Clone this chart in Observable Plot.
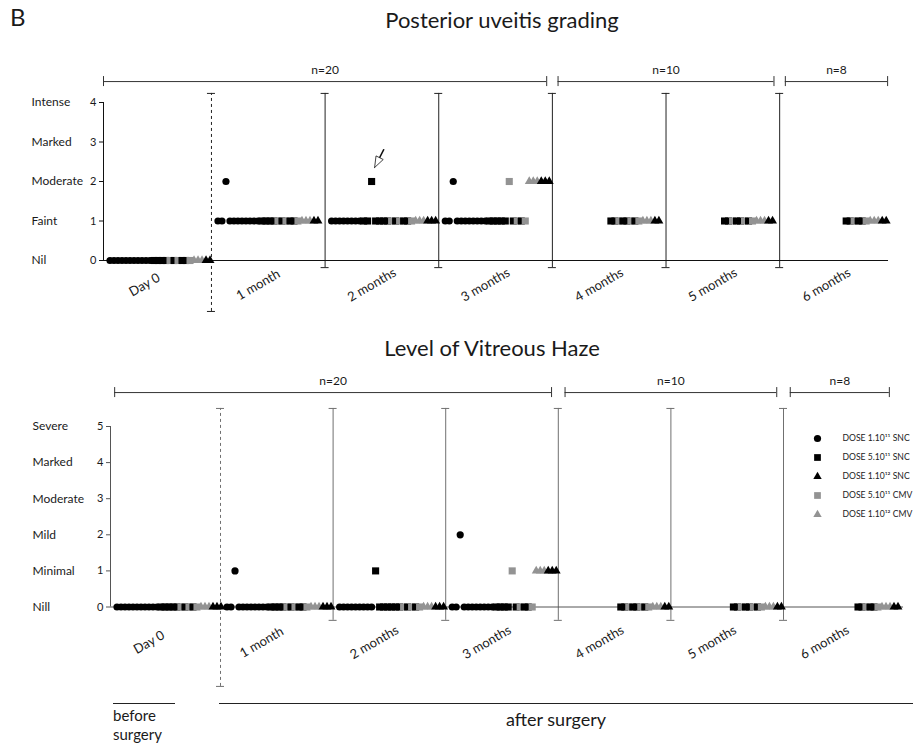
<!DOCTYPE html>
<html><head><meta charset="utf-8">
<script src="https://cdn.jsdelivr.net/npm/d3@7"></script>
<script src="https://cdn.jsdelivr.net/npm/@observablehq/plot@0.6"></script>
<style>
body{margin:0;background:#fff;font-family:Lato,sans-serif;color:#1a1a1a;}
#wrap{position:relative;width:913px;height:753px;overflow:hidden;background:#fff;}
.abs{position:absolute;white-space:nowrap;}
.line{position:absolute;border-top:1px solid #222;height:0;}
</style></head><body><div id="wrap">
<div class="abs" style="left:10px;top:2px;font-size:24px;">B</div>
<div class="abs" style="left:0;width:1004px;top:6px;text-align:center;font-size:22px;">Posterior uveitis grading</div>
<div class="abs" style="left:0;width:984px;top:334px;text-align:center;font-size:22px;">Level of Vitreous Haze</div>
<div class="line" style="left:113px;top:703px;width:62px;"></div>
<div class="abs" style="left:113px;top:706px;font-size:15px;line-height:19px;">before<br>surgery</div>
<div class="line" style="left:219px;top:703px;width:700px;"></div>
<div class="abs" style="left:0;width:1112px;top:708px;text-align:center;font-size:18px;">after surgery</div>
</div>
<script>
// ---------- data ----------
const timepoints = ["Day 0","1 month","2 months","3 months","4 months","5 months","6 months"];
const groupKeys = ["c","s","T","g","t"];
const groupLabels = ["DOSE 1.10\u00B9\u00B9 SNC","DOSE 5.10\u00B9\u00B9 SNC","DOSE 1.10\u00B9\u00B2 SNC","DOSE 5.10\u00B9\u00B9 CMV","DOSE 1.10\u00B9\u00B2 CMV"];
const groupSymbols = ["circle","square","triangle","square","triangle"];
const groupColors = ["#000000","#000000","#000000","#939393","#939393"];

const uveitisGrades = ["Nil","Faint","Moderate","Marked","Intense"];
const hazeGrades = ["Nill","Minimal","Mild","Moderate","Marked","Severe"];

const cohortLabels = ["n=20","n=10","n=8"];
const cohortFirst = [0,4,6];
const cohortLast = [3,5,6];

// runs per time point: [group, number of animals, grade]; null = group not examined
const uveitisRuns = [
  [["c",11,0],["s",4,0],["g",1,0],["s",1,0],["g",1,0],["s",2,0],["g",1,0],["t",3,0],["T",2,0]],
  [["c",2,1],["c",1,2],["c",8,1],["s",4,1],["g",1,1],["s",1,1],["g",1,1],["s",2,1],["g",1,1],["t",3,1],["T",2,1]],
  [["c",8,1],["s",2,1],["s",1,2],["s",4,1],["g",1,1],["s",1,1],["g",1,1],["s",2,1],["g",1,1],["t",3,1],["T",3,1]],
  [["c",2,1],["c",1,2],["c",8,1],["s",5,1],["g",1,2],["s",1,1],["g",1,1],["s",1,1],["g",1,1],["t",3,2],["T",3,2]],
  [["c",13,null],["s",2,1],["g",1,1],["s",2,1],["g",1,1],["s",1,1],["g",1,1],["t",3,1],["T",2,1]],
  [["c",13,null],["s",2,1],["g",1,1],["s",2,1],["g",1,1],["s",1,1],["g",1,1],["t",3,1],["T",2,1]],
  [["c",15,null],["s",2,1],["g",1,1],["s",2,1],["g",1,1],["t",3,1],["T",2,1]]
];
const hazeRuns = [
  [["c",11,0],["s",5,0],["g",1,0],["s",1,0],["g",1,0],["s",1,0],["g",1,0],["t",3,0],["T",3,0]],
  [["c",2,0],["c",1,1],["c",8,0],["s",4,0],["g",1,0],["s",1,0],["g",1,0],["s",2,0],["g",1,0],["t",3,0],["T",3,0]],
  [["c",9,0],["s",1,1],["s",6,0],["g",1,0],["s",1,0],["g",1,0],["s",1,0],["g",1,0],["t",3,0],["T",3,0]],
  [["c",2,0],["c",1,2],["c",8,0],["s",4,0],["g",1,1],["s",1,0],["g",1,0],["s",2,0],["g",1,0],["t",3,1],["T",3,1]],
  [["c",14,null],["s",2,0],["g",1,0],["s",2,0],["g",1,0],["s",1,0],["g",1,0],["t",3,0],["T",2,0]],
  [["c",14,null],["s",2,0],["g",1,0],["s",2,0],["g",1,0],["s",1,0],["g",1,0],["t",3,0],["T",2,0]],
  [["c",17,null],["s",2,0],["g",1,0],["s",2,0],["g",1,0],["t",3,0],["T",2,0]]
];

// ---------- layout ----------
const SLOT_START = 6.5, SLOT_PITCH = 4;
function expand(runs, x0, ppu) {
  const pts = [];
  runs.forEach((tp, i) => {
    const left = Math.max(i - 0.5, x0);
    let slot = 0;
    for (const [group, n, value] of tp) {
      for (let k = 0; k < n; k++, slot++) {
        if (value === null) continue;
        pts.push({tp: i, group, value, x: left + (SLOT_START + SLOT_PITCH * slot) / ppu});
      }
    }
  });
  return pts;
}
const scales = {
  symbol: {domain: groupKeys, range: groupSymbols},
  color: {domain: groupKeys, range: groupColors}
};
const R = {circle: 3.6, square: 4.0, triangle: 3.3};
function pointMarks(pts) {
  return ["circle", "square", "triangle"].map(shape =>
    Plot.dot(pts.filter(d => groupSymbols[groupKeys.indexOf(d.group)] === shape),
      {x: "x", y: "value", symbol: "group", fill: "group", r: R[shape]}));
}
function frameMarks(o) {
  const {x0, xEnd, ppu, ppv, yTop, yBot, yDash, yBr, sepColor, axisColor, grades, labelDx, lblDx, lblDy, brPad} = o;
  const seps = d3.range(0.5, 6, 1);
  const solid = seps.slice(1);
  const capW = 4 / ppu;
  const caps = [
    {x: 0.5, y: yTop}, {x: 0.5, y: yDash},
    ...solid.map(x => ({x, y: yTop})), ...solid.map(x => ({x, y: yBot}))
  ];
  const cohorts = cohortLabels.map((t, i) => ({t, x1: cohortFirst[i] - brPad, x2: cohortLast[i] + brPad}));
  const brEnds = cohorts.flatMap(c => [c.x1, c.x2]);
  const tickV = 5 / ppv;
  return [
    Plot.ruleX([0.5], {y1: yDash, y2: yTop, stroke: sepColor, strokeDasharray: "3,3"}),
    Plot.ruleX(solid, {y1: yBot, y2: yTop, stroke: sepColor}),
    Plot.ruleY(caps, {y: "y", x1: d => d.x - capW, x2: d => d.x + capW, stroke: sepColor}),
    Plot.ruleY([0], {x1: x0, x2: xEnd, stroke: axisColor}),
    Plot.ruleX([x0], {y1: 0, y2: grades.length - 1, stroke: axisColor}),
    Plot.axisY({ticks: d3.range(grades.length), tickSize: 4, tickPadding: 3, fontSize: 11, tickFormat: d3.format("d"), stroke: axisColor}),
    Plot.text(grades, {y: (d, i) => i, text: d => d, frameAnchor: "left", dx: labelDx, textAnchor: "start", fontSize: 12}),
    Plot.text(timepoints, {x: (d, i) => i, text: d => d, frameAnchor: "bottom", dx: lblDx, dy: lblDy, rotate: -30, textAnchor: "middle", fontSize: 13}),
    Plot.ruleY(cohorts, {y: yBr, x1: "x1", x2: "x2", stroke: "#333"}),
    Plot.ruleX(brEnds, {y1: yBr - tickV, y2: yBr + tickV, stroke: "#333"}),
    Plot.text(cohorts, {x: d => (d.x1 + d.x2) / 2, y: yBr, text: "t", dy: -11, fontSize: 12})
  ];
}

const wrap = document.getElementById("wrap");
const svgStyle = "position:absolute;left:0;top:0;background:transparent;overflow:visible;font-family:Lato,sans-serif;";

// ---------- top panel ----------
{
  const x0 = -0.45, ppu = 113.6, ppv = 39.5;
  const pts = expand(uveitisRuns, x0, ppu);
  const sq = pts.find(d => d.tp === 2 && d.value === 2);
  const off = (dx, dy) => ({x: sq.x + dx / ppu, y: sq.value - dy / ppv});
  const head = [off(3, -14), off(11.6, -22), off(4.4, -25.6), off(3, -14)];
  const tail = [off(8, -23.8), off(12.1, -31.8)];
  const chart = Plot.plot({
    width: 913, height: 753, marginLeft: 103, marginRight: 20, marginTop: 102, marginBottom: 493,
    style: svgStyle,
    x: {domain: [x0, 6.5], range: [103, 892.8], axis: null},
    y: {domain: [0, 4], range: [260, 102], axis: null},
    ...scales,
    marks: [
      ...frameMarks({x0, xEnd: 6.458, ppu, ppv, yTop: 4.23, yBot: -0.18, yDash: -1.29, yBr: 4.53,
        sepColor: "#222", axisColor: "#111", grades: uveitisGrades, labelDx: -72, lblDx: -8, lblDy: 28, brPad: 0.45}),
      ...pointMarks(pts),
      Plot.line(tail, {x: "x", y: "y", stroke: "#111"}),
      Plot.line(head, {x: "x", y: "y", stroke: "#111", fill: "white", strokeWidth: 0.8})
    ]
  });
  wrap.appendChild(chart);
}

// ---------- bottom panel ----------
{
  const x0 = -0.477, ppu = 112.6, ppv = 36.1;
  const pts = expand(hazeRuns, x0, ppu);
  const chart = Plot.plot({
    width: 913, height: 753, marginLeft: 110, marginRight: 17.4, marginTop: 426, marginBottom: 146.5,
    style: svgStyle,
    x: {domain: [x0, 6.5], range: [110, 895.6], axis: null},
    y: {domain: [0, 5], range: [606.5, 426], axis: null},
    ...scales,
    marks: [
      ...frameMarks({x0, xEnd: 6.566, ppu, ppv, yTop: 5.5, yBot: -0.37, yDash: -2.2, yBr: 5.94,
        sepColor: "#707070", axisColor: "#555", grades: hazeGrades, labelDx: -78, lblDx: -13, lblDy: 39, brPad: 0.44}),
      ...pointMarks(pts)
    ]
  });
  wrap.appendChild(chart);
}

// ---------- legend ----------
{
  const legendRows = groupKeys.map((key, i) => ({key, label: groupLabels[i], shape: groupSymbols[i]}));
  const legend = Plot.plot({
    width: 108, height: 125, margin: 0,
    style: "position:absolute;left:805px;top:415px;background:transparent;overflow:visible;font-family:Lato,sans-serif;",
    x: {domain: [0, 1], axis: null},
    y: {type: "point", domain: groupLabels, range: [12, 110], axis: null},
    ...scales,
    marks: [
      ...["circle", "square", "triangle"].map(shape =>
        Plot.dot(legendRows.filter(d => d.shape === shape),
          {y: "label", symbol: "key", fill: "key", frameAnchor: "left", dx: 12, r: shape === "square" ? 3.8 : shape === "circle" ? 3.6 : 3.1})),
      Plot.text(legendRows, {y: "label", text: "label", frameAnchor: "left", dx: 37, textAnchor: "start", fontSize: 8.6, fill: "#222"})
    ]
  });
  wrap.appendChild(legend);
}
</script>
</body></html>
